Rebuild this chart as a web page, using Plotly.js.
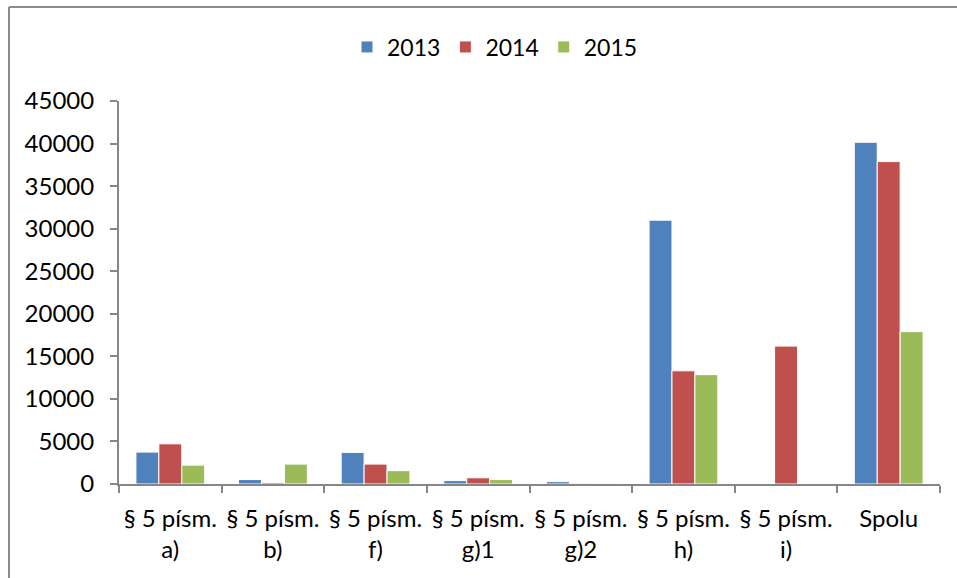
<!DOCTYPE html>
<html>
<head>
<meta charset="utf-8">
<script src="https://cdn.plot.ly/plotly-3.0.1.min.js"></script>
<style>
html,body{margin:0;padding:0;background:#fff;}
#chart{width:957px;height:578px;}
</style>
</head>
<body>
<div id="chart"></div>
<script>
const categories = ["§ 5 písm.<br>a)", "§ 5 písm.<br>b)", "§ 5 písm.<br>f)", "§ 5 písm.<br>g)1", "§ 5 písm.<br>g)2", "§ 5 písm.<br>h)", "§ 5 písm.<br>i)", "Spolu"];
const seriesNames = ["2013", "2014", "2015"];
const values2013 = [3750, 520, 3710, 400, 280, 31000, 0, 40150];
const values2014 = [4720, 160, 2340, 730, 80, 13300, 16200, 37880];
const values2015 = [2220, 2340, 1570, 520, 40, 12850, 0, 17900];
const yTicks = [0, 5000, 10000, 15000, 20000, 25000, 30000, 35000, 40000, 45000];

const colors = ["#4F81BD", "#C0504D", "#9BBB59"];
const allValues = [values2013, values2014, values2015];
const traces = allValues.map((v, i) => ({
  type: "bar",
  name: seriesNames[i],
  x: categories,
  y: v,
  marker: {color: colors[i], line: {color: "#ffffff", width: 1}},
  hoverinfo: "x+y+name"
}));

const L = 119, R = 940, T = 101, B = 484, W = 957, H = 578;
const px = x => (x - L) / (R - L);
const py = y => (B - y) / (B - T);

const layout = {
  width: W, height: H,
  margin: {l: L, r: W - R, t: T, b: H - B},
  paper_bgcolor: "#ffffff",
  plot_bgcolor: "#ffffff",
  font: {family: "Lato, 'Open Sans', sans-serif", size: 24, color: "#000000"},
  barmode: "group",
  bargap: 0.33,
  bargroupgap: 0,
  showlegend: true,
  legend: {
    orientation: "h",
    x: px(495), xanchor: "center", xref: "paper",
    y: 1 - 47 / H, yanchor: "middle", yref: "container",
    font: {size: 23, color: "#000000"},
    itemwidth: 30,
    traceorder: "normal"
  },
  xaxis: {
    type: "category",
    tickson: "boundaries",
    ticks: "outside",
    ticklen: 7,
    tickcolor: "#868686",
    tickwidth: 2,
    tickangle: 0,
    showline: true,
    linecolor: "#868686",
    linewidth: 2,
    showgrid: false,
    zeroline: false,
    ticklabelstandoff: 12,
    tickfont: {size: 24}
  },
  yaxis: {
    range: [0, 45000],
    tickvals: yTicks,
    ticktext: yTicks.map(String),
    ticks: "outside",
    ticklen: 7,
    tickcolor: "#868686",
    tickwidth: 2,
    showline: true,
    linecolor: "#868686",
    linewidth: 2,
    showgrid: false,
    zeroline: false,
    ticklabelstandoff: 11,
    tickfont: {size: 24}
  },
  shapes: [
    {type: "line", xref: "paper", yref: "paper", x0: px(9), x1: px(960), y0: py(7), y1: py(7), line: {color: "#8c8c8c", width: 2}},
    {type: "line", xref: "paper", yref: "paper", x0: px(9), x1: px(9), y0: py(7), y1: py(580), line: {color: "#8c8c8c", width: 2}}
  ]
};

Plotly.newPlot("chart", traces, layout, {displayModeBar: false, responsive: false});
</script>
</body>
</html>
